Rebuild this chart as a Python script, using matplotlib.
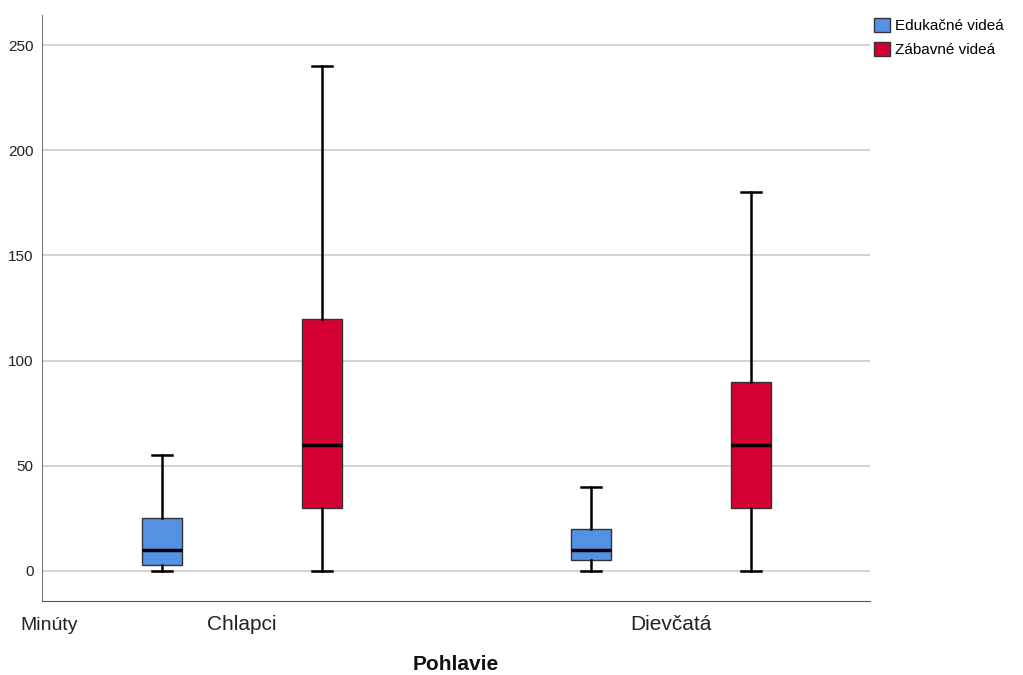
import matplotlib.pyplot as plt
from matplotlib.patches import Patch

plt.rcParams['font.family'] = ['Liberation Sans', 'DejaVu Sans']

skupiny = ['Chlapci', 'Dievčatá']
typy = ['Edukačné videá', 'Zábavné videá']
farby = ['#5592E3', '#D50032']

# min, Q1, median, Q3, max pre kazdu skupinu a typ videa
minima = [[0, 0], [0, 0]]
q1 = [[3, 30], [5, 30]]
mediany = [[10, 60], [10, 60]]
q3 = [[25, 120], [20, 90]]
maxima = [[55, 240], [40, 180]]

y_ticks = [0, 50, 100, 150, 200, 250]

fig = plt.figure(figsize=(10.23, 6.75), dpi=100)
ax = fig.add_axes([42 / 1023, 74 / 675, 828 / 1023, 586 / 675])

posun = 0.1865
sirka = 0.093

for g in range(len(skupiny)):
    for t in range(len(typy)):
        stats = [{
            'whislo': minima[g][t], 'q1': q1[g][t], 'med': mediany[g][t],
            'q3': q3[g][t], 'whishi': maxima[g][t], 'fliers': []
        }]
        pos = g + (posun if t == 1 else -posun)
        ax.bxp(stats, positions=[pos], widths=sirka, capwidths=sirka / 2,
               patch_artist=True, showfliers=False,
               boxprops=dict(facecolor=farby[t], edgecolor='#333333', linewidth=1),
               medianprops=dict(color='black', linewidth=2.5),
               whiskerprops=dict(color='black', linewidth=1.8),
               capprops=dict(color='black', linewidth=1.8))

ax.set_xlim(-0.466, 1.464)
ax.set_ylim(-14.3, 264.3)
ax.set_yticks(y_ticks)
ax.set_yticklabels([str(v) for v in y_ticks], fontsize=11, color='#222222')
ax.set_xticks([0, 1])
ax.set_xticklabels(skupiny, fontsize=15, color='#222222')
ax.tick_params(length=0, axis='y', pad=6)
ax.tick_params(length=0, axis='x', pad=10)

ax.yaxis.grid(True, color='#cccccc', linewidth=1.2)
ax.set_axisbelow(True)
for s in ['top', 'right']:
    ax.spines[s].set_visible(False)
ax.spines['left'].set_color('#777777')
ax.spines['bottom'].set_color('#555555')

ax.set_xlabel('Pohlavie', fontsize=15, fontweight='bold', labelpad=15, color='#111111')
fig.text(20 / 1023, 1 - 626 / 675, 'Minúty', fontsize=14, color='#222222', va='center')

ruky = [Patch(facecolor=farby[i], edgecolor='#333333', label=typy[i]) for i in range(2)]
fig.legend(handles=ruky, loc='upper left', bbox_to_anchor=(868 / 1023, 1 - 12 / 675),
           frameon=False, fontsize=11, handlelength=1.05, handleheight=1.05,
           handletextpad=0.3, labelspacing=0.55, borderaxespad=0)

fig.savefig('out.png', dpi=100)
